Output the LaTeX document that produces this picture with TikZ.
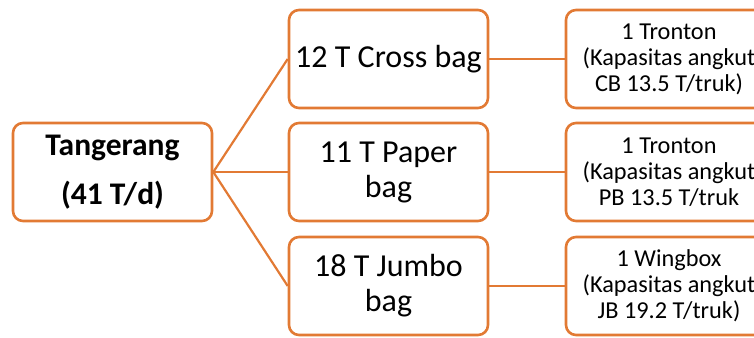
\documentclass[tikz,border=0pt]{standalone}
\usepackage{fontspec}
\setmainfont{Carlito}
\definecolor{org}{RGB}{226,122,52}
\begin{document}
\begin{tikzpicture}[x=1pt,y=-1pt,
  box/.style={draw=org, line width=2.6pt, rounded corners=10pt, align=center, inner sep=0pt, text=black},
  conn/.style={draw=org, line width=2.2pt}]
\useasboundingbox[clip] (0,0) rectangle (754,337);
\node[box, minimum width=199pt, minimum height=98pt, font=\bfseries\fontsize{31.5}{49}\selectfont] (src) at (112.5,172) {Tangerang\\(41 T/d)};
\node[box, minimum width=199pt, minimum height=98pt, font=\fontsize{32}{35}\selectfont] (m1) at (388.5,59) {12 T Cross bag};
\node[box, minimum width=199pt, minimum height=98pt, font=\fontsize{32}{35}\selectfont] (m2) at (388.5,172) {11 T Paper\\bag};
\node[box, minimum width=199pt, minimum height=98pt, font=\fontsize{32}{35}\selectfont] (m3) at (388.5,286) {18 T Jumbo\\bag};
\node[box, minimum width=206pt, minimum height=98pt, font=\fontsize{24.3}{26}\selectfont] (r1) at (669,59) {1 Tronton\\(Kapasitas angkut\\CB 13.5 T/truk)};
\node[box, minimum width=206pt, minimum height=98pt, font=\fontsize{24.3}{26}\selectfont] (r2) at (669,172) {1 Tronton\\(Kapasitas angkut\\PB 13.5 T/truk};
\node[box, minimum width=206pt, minimum height=98pt, font=\fontsize{24.3}{26}\selectfont] (r3) at (669,286) {1 Wingbox\\(Kapasitas angkut\\JB 19.2 T/truk)};
\draw[conn] (src.east) -- (m1.west);
\draw[conn] (src.east) -- (m2.west);
\draw[conn] (src.east) -- (m3.west);
\draw[conn] (m1.east) -- (r1.west);
\draw[conn] (m2.east) -- (r2.west);
\draw[conn] (m3.east) -- (r3.west);
\end{tikzpicture}
\end{document}
